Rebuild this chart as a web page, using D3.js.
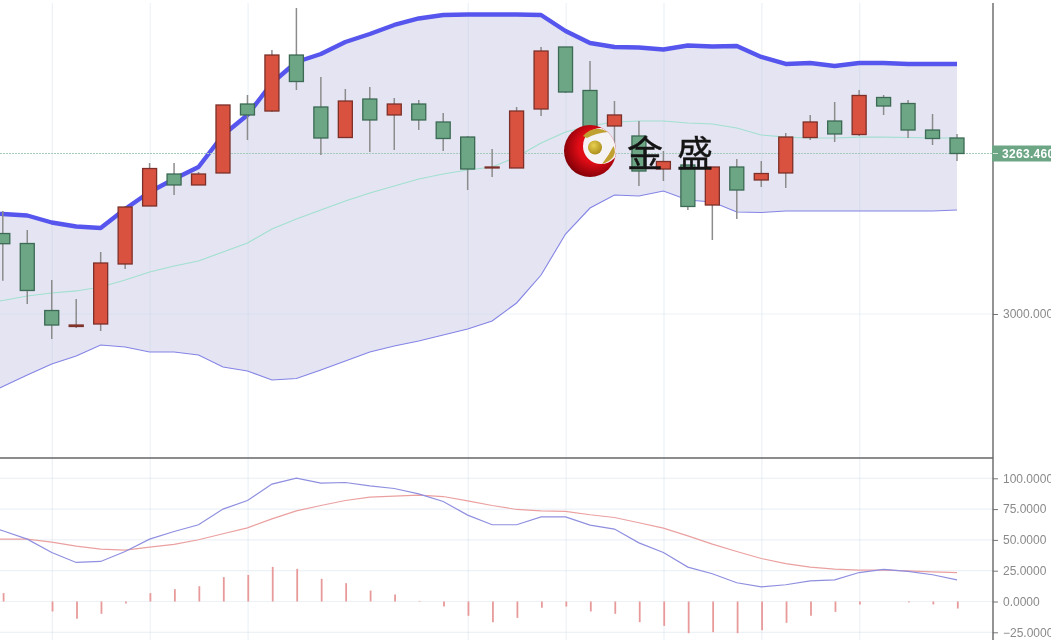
<!DOCTYPE html>
<html><head><meta charset="utf-8">
<script src="https://cdn.jsdelivr.net/npm/d3@7"></script>
<style>html,body{margin:0;padding:0;background:#fff;overflow:hidden}svg{display:block;filter:blur(.45px)}</style>
</head><body><svg id="c" width="1051" height="640"></svg>
<script>
const opens=[3132.1,3115.7,3005.7,2979.5,2983.6,3082.1,3177.3,3229.8,3211.8,3231.5,3344.7,3333.2,3425.1,3339.8,3289.7,3352.9,3326.7,3344.7,3315.2,3290.5,3239.7,3239.7,3336.5,3438.3,3366.9,3308.6,3292.2,3238.0,3244.6,3178.9,3241.3,3220.0,3231.5,3289.7,3316.8,3294.6,3355.4,3345.5,3302.0,3288.9];
const closes=[3115.4,3038.6,2981.9,2981.9,3083.7,3175.6,3238.8,3211.8,3229.8,3343.1,3326.7,3425.1,3381.6,3288.9,3349.6,3318.5,3344.7,3318.5,3288.1,3238.0,3241.3,3333.2,3431.7,3364.4,3288.9,3326.7,3234.7,3250.3,3176.5,3241.3,3203.5,3230.6,3290.5,3315.2,3295.5,3358.7,3341.4,3302.0,3288.1,3263.46];
const highs=[3169.1,3137.9,3055.8,3024.6,3101.8,3177.3,3247.9,3247.9,3233.1,3343.1,3359.5,3433.4,3502.3,3389.0,3369.3,3372.6,3354.6,3351.3,3329.9,3292.2,3270.8,3339.8,3438.3,3438.3,3415.3,3349.6,3316.8,3267.6,3244.6,3241.3,3254.4,3251.1,3297.1,3326.7,3348.0,3367.7,3359.5,3351.3,3328.3,3295.5];
const lows=[3054.7,3016.4,2959.0,2977.0,2972.1,3073.9,3177.3,3195.3,3211.8,3231.5,3285.6,3331.6,3367.7,3261.0,3289.7,3265.9,3269.2,3302.0,3267.6,3203.5,3224.9,3239.7,3325.0,3362.8,3288.9,3269.2,3210.1,3218.3,3170.7,3121.5,3155.9,3208.5,3206.8,3285.6,3282.3,3292.2,3326.7,3288.9,3277.4,3251.1];
// line series carry one extra leading value: the session just left of the visible window
const bandUpper=[3165.8,3164.2,3161.7,3150.2,3143.6,3141.2,3172.4,3200.3,3221.6,3241.3,3293.8,3326.7,3379.2,3413.7,3426.8,3446.5,3459.6,3474.4,3485.1,3490.8,3491.6,3491.6,3491.6,3490.8,3464.5,3444.8,3438.3,3437.5,3434.2,3440.8,3439.1,3439.9,3421.9,3410.4,3412.0,3407.1,3412.0,3412.0,3410.4,3410.4,3410.4];
const bandMid=[3016.0,3022.2,3029.5,3034.5,3037.8,3044.3,3055.8,3068.9,3078.8,3087.0,3101.8,3116.5,3139.5,3155.9,3170.7,3185.5,3198.6,3210.1,3221.6,3229.8,3236.4,3241.3,3257.7,3280.7,3298.8,3308.6,3315.2,3316.8,3316.8,3313.5,3311.9,3305.3,3293.8,3290.5,3288.9,3288.9,3290.5,3290.5,3289.7,3288.9,3288.9];
const bandLower=[2862.0,2881.0,2899.9,2917.9,2931.1,2949.1,2945.8,2937.6,2937.6,2932.7,2913.0,2906.4,2891.7,2894.1,2908.1,2922.8,2937.6,2947.5,2955.7,2965.5,2975.4,2988.5,3018.1,3064.0,3131.3,3174.0,3195.3,3193.7,3201.9,3187.1,3183.8,3167.4,3166.6,3169.1,3169.1,3169.1,3169.1,3169.1,3169.1,3169.1,3170.7];
const kLine=[63.0,57.4,50.6,39.8,31.7,32.5,40.6,50.6,56.8,62.3,75.0,82.0,95.3,100.2,96.1,96.6,93.9,91.7,87.4,81.2,70.1,62.3,62.3,68.7,68.7,62.0,58.8,47.6,39.8,27.9,22.5,15.2,11.9,13.6,16.8,17.6,23.5,26.0,24.4,21.7,17.6];
const dLine=[50.6,50.6,50.6,48.2,45.0,42.5,41.7,44.2,46.3,50.1,55.0,59.8,67.1,73.6,77.9,82.0,84.7,85.6,86.4,85.2,81.7,77.9,74.7,73.6,73.1,70.4,68.2,63.9,59.6,53.3,46.6,40.6,34.9,30.8,27.9,26.3,25.5,25.5,24.9,24.1,23.5];
const hist=[6.8,0,-8.1,-14.1,-10,-1.6,6.8,10,12.4,19.8,21.6,28.1,26.5,18.4,14.9,8.9,5.7,0.5,-4.1,-11.6,-16.8,-13.3,-5.1,-4.1,-8.1,-10,-16.8,-19.8,-25.7,-24.9,-25.7,-23.3,-17.3,-11.6,-8.4,-2.4,0,-0.8,-2.4,-5.7];
const gridIdx=[2,6,10,19,23,27,31,35];
const mainTicks=[3000];
const lowTicks=[100,75,50,25,0,-25];
const lastPrice=3263.46;

const svg=d3.select("#c");
const idx=d3.range(opens.length);
const lineIdx=d3.range(-1,opens.length);
const x=d3.scalePoint().domain(lineIdx).range([2.8-(957-2.8)/39,957]);
const yM=d3.scaleLinear().domain([3000,3263.46]).range([314,153.5]);
const yL=d3.scaleLinear().domain([-25,100]).range([632.3,478.3]);
const gridCol="rgba(190,208,226,.28)";
const FONT="'Liberation Sans',Arial,sans-serif";
const defs=svg.append("defs");
defs.append("clipPath").attr("id","mainClip").append("rect").attr("x",0).attr("y",3).attr("width",993).attr("height",455);
defs.append("clipPath").attr("id","lowClip").append("rect").attr("x",0).attr("y",458).attr("width",993).attr("height",182);
defs.append("clipPath").attr("id","logoClip").append("circle").attr("cx",590).attr("cy",151).attr("r",26);
const rg=defs.append("radialGradient").attr("id","red").attr("cx","58%").attr("cy","42%").attr("r","60%");
rg.append("stop").attr("offset","50%").attr("stop-color","#e00c16");
rg.append("stop").attr("offset","100%").attr("stop-color","#840008");
const gg=defs.append("radialGradient").attr("id","gold").attr("cx","40%").attr("cy","35%").attr("r","70%");
gg.append("stop").attr("offset","0%").attr("stop-color","#e8d050");
gg.append("stop").attr("offset","100%").attr("stop-color","#a88a18");

const main=svg.append("g").attr("clip-path","url(#mainClip)");
const low=svg.append("g").attr("clip-path","url(#lowClip)");

// band fill
main.append("path").attr("fill","#8080c0").attr("fill-opacity",.21)
  .attr("d",d3.area().x(i=>x(i)).y0(i=>yM(bandLower[i+1])).y1(i=>yM(bandUpper[i+1]))(lineIdx));

// grids
[main,low].forEach(g=>g.append("g").selectAll("line").data(gridIdx).join("line")
  .attr("x1",i=>x(i)+.6).attr("x2",i=>x(i)+.6).attr("y1",0).attr("y2",640)
  .attr("stroke",gridCol).attr("stroke-width",1.2));
main.append("g").selectAll("line").data(mainTicks).join("line")
  .attr("x1",0).attr("x2",993).attr("y1",d=>yM(d)).attr("y2",d=>yM(d)).attr("stroke",gridCol).attr("stroke-width",1.2);
low.append("g").selectAll("line").data(lowTicks).join("line")
  .attr("x1",0).attr("x2",993).attr("y1",d=>yL(d)).attr("y2",d=>yL(d)).attr("stroke",gridCol).attr("stroke-width",1.2);

// band lines
const lineOf=(arr,y)=>d3.line().x(i=>x(i)).y(i=>y(arr[i+1]))(lineIdx);
main.append("path").attr("d",lineOf(bandMid,yM)).attr("fill","none").attr("stroke","#a2e0cf").attr("stroke-width",1.2);
main.append("path").attr("d",lineOf(bandLower,yM)).attr("fill","none").attr("stroke","#8484e6").attr("stroke-width",1.1);
main.append("path").attr("d",lineOf(bandUpper,yM)).attr("fill","none").attr("stroke","#5656ee").attr("stroke-width",4.4).attr("stroke-linejoin","round");

// last price line
main.append("line").attr("x1",0).attr("x2",993).attr("y1",yM(lastPrice)).attr("y2",yM(lastPrice))
  .attr("stroke","#a4cbb9").attr("stroke-width",1).attr("stroke-dasharray","2,1");

// candles
const up=i=>closes[i]>=opens[i];
main.append("g").selectAll("line").data(idx).join("line")
  .attr("x1",i=>x(i)).attr("x2",i=>x(i)).attr("y1",i=>yM(highs[i])).attr("y2",i=>yM(lows[i]))
  .attr("stroke","#8c8c8c").attr("stroke-width",1.5);
main.append("g").selectAll("rect").data(idx).join("rect")
  .attr("x",i=>x(i)-7).attr("width",14)
  .attr("y",i=>yM(Math.max(opens[i],closes[i])))
  .attr("height",i=>Math.abs(yM(opens[i])-yM(closes[i])))
  .attr("fill",i=>up(i)?"#d9523f":"#6ca685")
  .attr("stroke",i=>up(i)?"#7c3029":"#3c6a54").attr("stroke-width",1.3);

// logo
const logo=svg.append("g");
logo.append("circle").attr("cx",590).attr("cy",151).attr("r",26).attr("fill","url(#red)");
logo.append("circle").attr("cx",601).attr("cy",146).attr("r",18).attr("fill","#f4f2f4").attr("clip-path","url(#logoClip)");
logo.append("circle").attr("cx",595).attr("cy",147.5).attr("r",7).attr("fill","url(#gold)");
logo.append("path").attr("d","M583 136Q594 124 608 132Q596 133 587 138Z").attr("fill","#bfa030");
logo.append("path").attr("d","M613.5 146Q619 158 602 164Q609 155 613.5 146Z").attr("fill","#bfa030");
logo.selectAll("text").data(["金","盛"]).join("text")
  .attr("x",(d,i)=>i?677:627).attr("y",167).text(d=>d)
  .attr("font-family","'Noto Sans CJK SC'").attr("font-size",36).attr("fill","#141414")
  .attr("stroke","#141414").attr("stroke-width",.4);

// lower pane
low.append("g").selectAll("line").data(idx).join("line")
  .attr("x1",i=>x(i)+.8).attr("x2",i=>x(i)+.8).attr("y1",yL(0)).attr("y2",i=>yL(hist[i]))
  .attr("stroke","#e89a9a").attr("stroke-width",1.8);
low.append("path").attr("d",lineOf(dLine,yL)).attr("fill","none").attr("stroke","#eba0a0").attr("stroke-width",1.2);
low.append("path").attr("d",lineOf(kLine,yL)).attr("fill","none").attr("stroke","#8f8fe0").attr("stroke-width",1.2);

// separator & axes
svg.append("line").attr("x1",0).attr("x2",993).attr("y1",458).attr("y2",458).attr("stroke","#666").attr("stroke-width",1.4);
function styleAxis(g){
  g.select(".domain").remove();
  g.selectAll(".tick line").attr("stroke","#777").attr("stroke-width",1);
  g.selectAll(".tick text").attr("font-family",FONT).attr("font-size",12).attr("fill","#8a8a8a");
}
svg.append("g").attr("transform","translate(993,0)")
  .call(d3.axisRight(yM).tickValues(mainTicks).tickFormat(d3.format(".3f")).tickSize(5).tickPadding(5)).call(styleAxis);
svg.append("g").attr("transform","translate(993,0)")
  .call(d3.axisRight(yL).tickValues(lowTicks).tickFormat(d3.format(".4f")).tickSize(5).tickPadding(5)).call(styleAxis);
svg.append("line").attr("x1",993).attr("x2",993).attr("y1",3).attr("y2",640).attr("stroke","#666").attr("stroke-width",1.4);

// last price tag
const py=yM(lastPrice);
svg.append("rect").attr("x",992).attr("y",py-8).attr("width",59).attr("height",16).attr("fill","#6ca685");
svg.append("line").attr("x1",993).attr("x2",998).attr("y1",py).attr("y2",py).attr("stroke","#cfe3d8");
svg.append("text").attr("x",1002).attr("y",py+4).text(d3.format(".3f")(lastPrice))
  .attr("font-family",FONT).attr("font-size",12).attr("font-weight","bold").attr("letter-spacing",.3).attr("fill","#fff");
</script></body></html>
